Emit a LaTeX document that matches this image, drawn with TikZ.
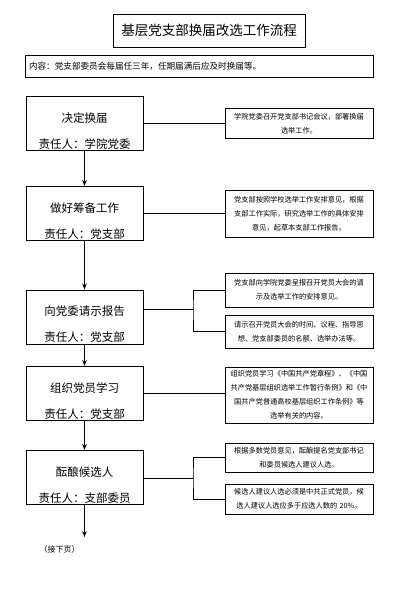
\documentclass[tikz,border=0pt]{standalone}
\usepackage{fontspec}
\setmainfont{Noto Sans CJK SC}
\usetikzlibrary{arrows.meta,positioning}
\newcommand\stepstrut{\rule{0pt}{24pt}}
\tikzset{
  stepbox/.style={draw, line width=0.9pt, minimum width=117pt, minimum height=54pt, inner sep=0pt, align=center, font=\fontsize{11.5}{26}\selectfont},
  notebox/.style={draw, line width=0.9pt, text width=140pt, minimum width=148pt, inner sep=3pt, align=center, font=\fontsize{7.2}{14}\selectfont},
  conn/.style={line width=0.9pt},
  arr/.style={line width=0.9pt, -{Stealth[length=6pt,width=4.5pt]}},
}
\begin{document}
\begin{tikzpicture}[x=1pt,y=-1pt]
\useasboundingbox (0,0) rectangle (400,607);
\node[draw, line width=0.9pt, minimum width=192pt, minimum height=33pt, font=\fontsize{13.5}{16}\selectfont] (title) at (209,30.5) {基层党支部换届改选工作流程};
\node[draw, line width=0.9pt, minimum width=347pt, minimum height=22pt, text width=341pt, align=left, font=\fontsize{8.6}{10}\selectfont] (intro) at (199.5,66) {内容：党支部委员会每届任三年，任期届满后应及时换届等。};

\node[stepbox] (b1) at (84.5,123.5) {\stepstrut 决定换届\\责任人：学院党委};
\node[stepbox] (b2) at (84.5,213.5) {\stepstrut 做好筹备工作\\责任人：党支部};
\node[stepbox] (b3) at (84.5,317) {\stepstrut 向党委请示报告\\责任人：党支部};
\node[stepbox] (b4) at (84.5,393.5) {\stepstrut 组织党员学习\\责任人：党支部};
\node[stepbox] (b5) at (84.5,477.5) {\stepstrut 酝酿候选人\\责任人：支部委员};

\node[notebox, minimum height=30pt] (r1) at (299,123.5) {学院党委召开党支部书记会议，部署换届\\选举工作。};
\node[notebox, minimum height=47pt] (r2) at (299,213.5) {党支部按照学校选举工作安排意见，根据\\支部工作实际，研究选举工作的具体安排\\意见，起草本支部工作报告。};
\node[notebox, minimum height=34pt] (r3a) at (299,290) {党支部向学院党委呈报召开党员大会的请\\示及选举工作的安排意见。};
\node[notebox, minimum height=33pt] (r3b) at (299,331.5) {请示召开党员大会的时间、议程、指导思\\想、党支部委员的名额、选举办法等。};
\node[notebox, minimum height=56pt] (r4) at (299,395) {组织党员学习《中国共产党章程》、《中国\\共产党基层组织选举工作暂行条例》和《中\\国共产党普通高校基层组织工作条例》等\\选举有关的内容。};
\node[notebox, minimum height=29pt] (r5a) at (299,457.5) {根据多数党员意见，酝酿提名党支部书记\\和委员候选人建议人选。};
\node[notebox, minimum height=30pt] (r5b) at (299,499) {候选人建议人选必须是中共正式党员，候\\选人建议人选应多于应选人数的 20\%。};

\coordinate (j3) at (193,309);
\coordinate (j5) at (193,478);
\coordinate (endp) at (84.5,537);
\node[font=\fontsize{8}{10}\selectfont, anchor=west] (cont) at (36,549) {（接下页）};

\draw[conn] (b1.east) -- (r1.west);
\draw[conn] (b2.east) -- (r2.west);
\draw[conn] (b3.east |- j3) -- (j3);
\draw[conn] (r3a.west) -| (j3) |- (r3b.west);
\draw[conn] (b4.east) -- (b4.east -| r4.west);
\draw[conn] (b5.east |- j5) -- (j5);
\draw[conn] (r5a.west) -| (j5) |- (r5b.west);

\draw[arr] (b1.south) -- (b2.north);
\draw[arr] (b2.south) -- (b3.north);
\draw[arr] (b3.south) -- (b4.north);
\draw[arr] (b4.south) -- (b5.north);
\draw[arr] (b5.south) -- (endp);
\end{tikzpicture}
\end{document}
